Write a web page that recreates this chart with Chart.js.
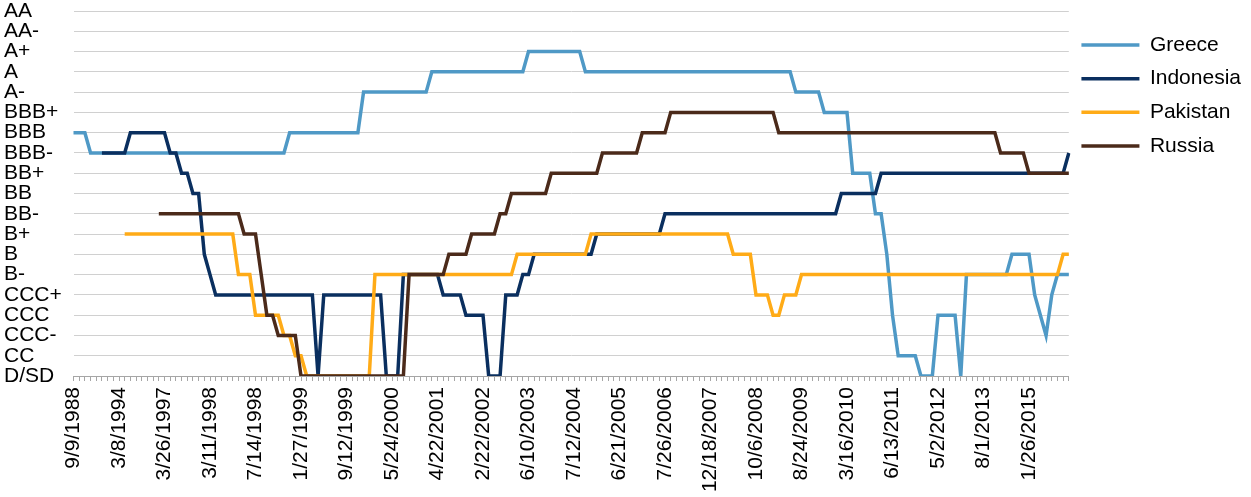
<!DOCTYPE html>
<html>
<head>
<meta charset="utf-8">
<script src="https://cdn.jsdelivr.net/npm/chart.js@4/dist/chart.umd.min.js"></script>
<style>
  html, body { margin: 0; padding: 0; background: #fff; }
  #chart { display: block; }
</style>
</head>
<body>
<canvas id="chart" width="1251" height="497"></canvas>
<script>
// rating scale, index = numeric level on the y axis
const ratings = ['D/SD', 'CC', 'CCC-', 'CCC', 'CCC+', 'B-', 'B', 'B+', 'BB-', 'BB', 'BB+',
  'BBB-', 'BBB', 'BBB+', 'A-', 'A', 'A+', 'AA-', 'AA'];

// only every 8th rating date is printed on the axis
const dateLabels = ['9/9/1988', '3/8/1994', '3/26/1997', '3/11/1998', '7/14/1998', '1/27/1999',
  '9/12/1999', '5/24/2000', '4/22/2001', '2/22/2002', '6/10/2003', '7/12/2004', '6/21/2005',
  '7/26/2006', '12/18/2007', '10/6/2008', '8/24/2009', '3/16/2010', '6/13/2011', '5/2/2012',
  '8/1/2013', '1/26/2015'];
const labelEvery = 8;
const pointCount = 176;

const n = null;

const greece = [
  12, 12, 12, 11, 11, 11, 11, 11, 11, 11, 11, 11, 11, 11, 11, 11,
  11, 11, 11, 11, 11, 11, 11, 11, 11, 11, 11, 11, 11, 11, 11, 11,
  11, 11, 11, 11, 11, 11, 12, 12, 12, 12, 12, 12, 12, 12, 12, 12,
  12, 12, 12, 14, 14, 14, 14, 14, 14, 14, 14, 14, 14, 14, 14, 15,
  15, 15, 15, 15, 15, 15, 15, 15, 15, 15, 15, 15, 15, 15, 15, 15,
  16, 16, 16, 16, 16, 16, 16, 16, 16, 16, 15, 15, 15, 15, 15, 15,
  15, 15, 15, 15, 15, 15, 15, 15, 15, 15, 15, 15, 15, 15, 15, 15,
  15, 15, 15, 15, 15, 15, 15, 15, 15, 15, 15, 15, 15, 15, 15, 14,
  14, 14, 14, 14, 13, 13, 13, 13, 13, 10, 10, 10, 10, 8, 8, 6,
  3, 1, 1, 1, 1, 0, 0, 0, 3, 3, 3, 3, 0, 5, 5, 5,
  5, 5, 5, 5, 5, 6, 6, 6, 6, 4, 3, 2, 4, 5, 5, 5,
];

const indonesia = [
  n, n, n, n, n, 11, 11, 11, 11, 11, 12, 12, 12, 12, 12, 12,
  12, 11, 11, 10, 10, 9, 9, 6, 5, 4, 4, 4, 4, 4, 4, 4,
  4, 4, 4, 4, 4, 4, 4, 4, 4, 4, 4, 0, 4, 4, 4, 4,
  4, 4, 4, 4, 4, 4, 4, 0, 0, 0, 5, 5, 5, 5, 5, 5,
  5, 4, 4, 4, 4, 3, 3, 3, 3, 0, 0, 0, 4, 4, 4, 5,
  5, 6, 6, 6, 6, 6, 6, 6, 6, 6, 6, 6, 7, 7, 7, 7,
  7, 7, 7, 7, 7, 7, 7, 7, 8, 8, 8, 8, 8, 8, 8, 8,
  8, 8, 8, 8, 8, 8, 8, 8, 8, 8, 8, 8, 8, 8, 8, 8,
  8, 8, 8, 8, 8, 8, 8, 9, 9, 9, 9, 9, 9, 9, 10, 10,
  10, 10, 10, 10, 10, 10, 10, 10, 10, 10, 10, 10, 10, 10, 10, 10,
  10, 10, 10, 10, 10, 10, 10, 10, 10, 10, 10, 10, 10, 10, 10, 11,
];

const pakistan = [
  n, n, n, n, n, n, n, n, n, 7, 7, 7, 7, 7, 7, 7,
  7, 7, 7, 7, 7, 7, 7, 7, 7, 7, 7, 7, 7, 5, 5, 5,
  3, 3, 3, 3, 3, 2, 2, 1, 1, 0, 0, 0, 0, 0, 0, 0,
  0, 0, 0, 0, 0, 5, 5, 5, 5, 5, 5, 5, 5, 5, 5, 5,
  5, 5, 5, 5, 5, 5, 5, 5, 5, 5, 5, 5, 5, 5, 6, 6,
  6, 6, 6, 6, 6, 6, 6, 6, 6, 6, 6, 7, 7, 7, 7, 7,
  7, 7, 7, 7, 7, 7, 7, 7, 7, 7, 7, 7, 7, 7, 7, 7,
  7, 7, 7, 7, 6, 6, 6, 6, 4, 4, 4, 3, 3, 4, 4, 4,
  5, 5, 5, 5, 5, 5, 5, 5, 5, 5, 5, 5, 5, 5, 5, 5,
  5, 5, 5, 5, 5, 5, 5, 5, 5, 5, 5, 5, 5, 5, 5, 5,
  5, 5, 5, 5, 5, 5, 5, 5, 5, 5, 5, 5, 5, 5, 6, 6,
];

const russia = [
  n, n, n, n, n, n, n, n, n, n, n, n, n, n, n, 8,
  8, 8, 8, 8, 8, 8, 8, 8, 8, 8, 8, 8, 8, 8, 7, 7,
  7, 5, 3, 3, 2, 2, 2, 2, 0, 0, 0, 0, 0, 0, 0, 0,
  0, 0, 0, 0, 0, 0, 0, 0, 0, 0, 0, 5, 5, 5, 5, 5,
  5, 5, 6, 6, 6, 6, 7, 7, 7, 7, 7, 8, 8, 9, 9, 9,
  9, 9, 9, 9, 10, 10, 10, 10, 10, 10, 10, 10, 10, 11, 11, 11,
  11, 11, 11, 11, 12, 12, 12, 12, 12, 13, 13, 13, 13, 13, 13, 13,
  13, 13, 13, 13, 13, 13, 13, 13, 13, 13, 13, 13, 12, 12, 12, 12,
  12, 12, 12, 12, 12, 12, 12, 12, 12, 12, 12, 12, 12, 12, 12, 12,
  12, 12, 12, 12, 12, 12, 12, 12, 12, 12, 12, 12, 12, 12, 12, 12,
  12, 12, 12, 11, 11, 11, 11, 11, 10, 10, 10, 10, 10, 10, 10, 10,
];

const labels = [];
for (let i = 0; i < pointCount; i++)
  labels.push(i % labelEvery === 0 ? dateLabels[i / labelEvery] : '');

Chart.defaults.font.family = '"Liberation Sans", Arial, Helvetica, sans-serif';
Chart.defaults.color = '#000';

// later series sit on top, like the original
function series(name, values, color, order) {
  return {
    label: name,
    data: values,
    borderColor: color,
    backgroundColor: color,
    borderWidth: 3.5,
    pointRadius: 0,
    pointHoverRadius: 0,
    tension: 0,
    order: order,
  };
}

new Chart(document.getElementById('chart').getContext('2d'), {
  type: 'line',
  data: {
    labels: labels,
    datasets: [
      series('Greece', greece, '#4f99c6', 3),
      series('Indonesia', indonesia, '#0a2f5f', 2),
      series('Pakistan', pakistan, '#ffab17', 1),
      series('Russia', russia, '#4b2a1a', 0),
    ],
  },
  options: {
    responsive: false,
    animation: false,
    layout: {
      autoPadding: false,
      padding: { left: 4, top: 11, right: 0, bottom: 0 },
    },
    plugins: {
      tooltip: { enabled: false },
      legend: {
        position: 'right',
        align: 'start',
        title: {
          display: true,
          text: '',
          padding: { top: 0, bottom: 0 },
          font: { size: 11, lineHeight: 1 },
        },
        labels: {
          usePointStyle: true,
          pointStyle: 'line',
          pointStyleWidth: 58,
          padding: 12.6,
          font: { size: 21 },
          color: '#000',
          sort: (a, b) => a.datasetIndex - b.datasetIndex,
        },
      },
    },
    scales: {
      x: {
        type: 'category',
        offset: false,
        grid: {
          drawOnChartArea: false,
          drawTicks: true,
          tickLength: 5,
          color: '#a6a6a6',
        },
        border: { color: '#a6a6a6' },
        ticks: {
          autoSkip: false,
          minRotation: 90,
          maxRotation: 90,
          padding: 6,
          font: { size: 21 },
        },
        afterFit: scale => {
          scale.height = 121;
          scale.paddingLeft = 0;
          scale.paddingRight = 0;
        },
      },
      y: {
        min: 0,
        max: 18,
        grid: {
          drawTicks: false,
          color: '#d0d0d0',
        },
        border: { display: false },
        ticks: {
          stepSize: 1,
          autoSkip: false,
          crossAlign: 'far',
          padding: 11,
          font: { size: 21, lineHeight: 1 },
          callback: v => ratings[v],
        },
        afterFit: scale => {
          scale.width = 69.5;
          scale.paddingTop = 0;
          scale.paddingBottom = 0;
        },
      },
    },
  },
});
</script>
</body>
</html>
